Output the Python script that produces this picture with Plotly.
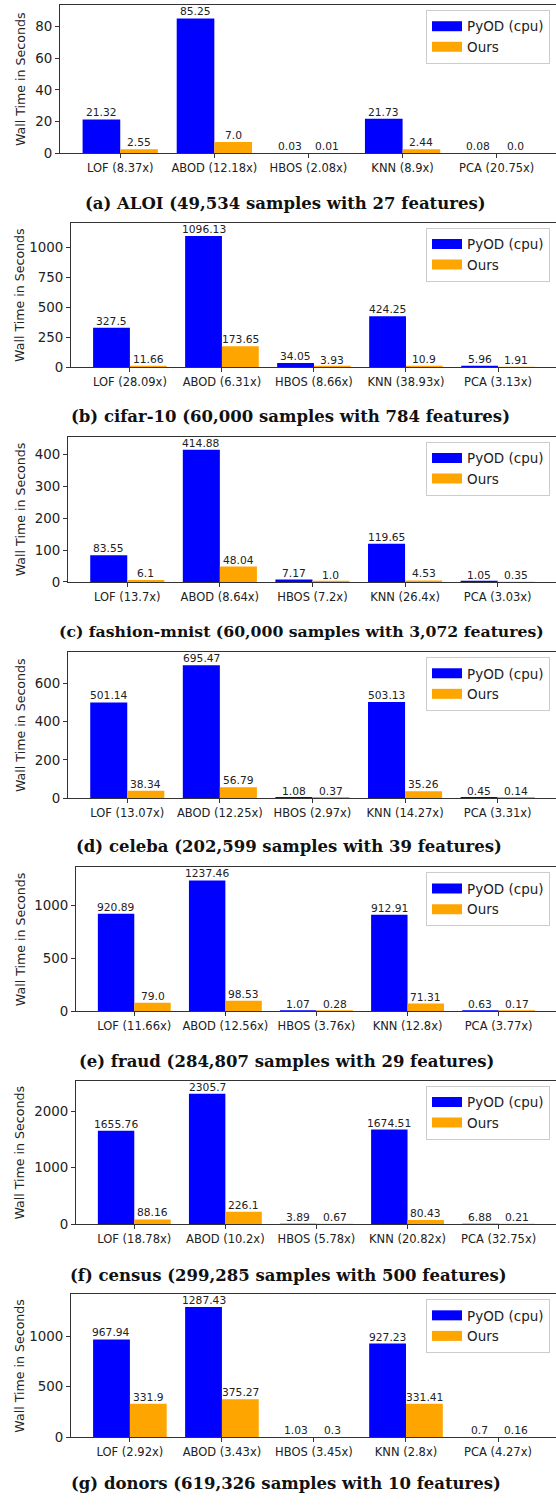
import plotly.graph_objects as go

# ---------------- data ----------------
methods = ["LOF", "ABOD", "HBOS", "KNN", "PCA"]
series_names = ["PyOD (cpu)", "Ours"]

captions = [
    "(a) ALOI (49,534 samples with 27 features)",
    "(b) cifar-10 (60,000 samples with 784 features)",
    "(c) fashion-mnist (60,000 samples with 3,072 features)",
    "(d) celeba (202,599 samples with 39 features)",
    "(e) fraud (284,807 samples with 29 features)",
    "(f) census (299,285 samples with 500 features)",
    "(g) donors (619,326 samples with 10 features)",
]

pyod_a = [21.32, 85.25, 0.03, 21.73, 0.08]
ours_a = [2.55, 7.0, 0.01, 2.44, 0.0]
speed_a = ["8.37x", "12.18x", "2.08x", "8.9x", "20.75x"]

pyod_b = [327.5, 1096.13, 34.05, 424.25, 5.96]
ours_b = [11.66, 173.65, 3.93, 10.9, 1.91]
speed_b = ["28.09x", "6.31x", "8.66x", "38.93x", "3.13x"]

pyod_c = [83.55, 414.88, 7.17, 119.65, 1.05]
ours_c = [6.1, 48.04, 1.0, 4.53, 0.35]
speed_c = ["13.7x", "8.64x", "7.2x", "26.4x", "3.03x"]

pyod_d = [501.14, 695.47, 1.08, 503.13, 0.45]
ours_d = [38.34, 56.79, 0.37, 35.26, 0.14]
speed_d = ["13.07x", "12.25x", "2.97x", "14.27x", "3.31x"]

pyod_e = [920.89, 1237.46, 1.07, 912.91, 0.63]
ours_e = [79.0, 98.53, 0.28, 71.31, 0.17]
speed_e = ["11.66x", "12.56x", "3.76x", "12.8x", "3.77x"]

pyod_f = [1655.76, 2305.7, 3.89, 1674.51, 6.88]
ours_f = [88.16, 226.1, 0.67, 80.43, 0.21]
speed_f = ["18.78x", "10.2x", "5.78x", "20.82x", "32.75x"]

pyod_g = [967.94, 1287.43, 1.03, 927.23, 0.7]
ours_g = [331.9, 375.27, 0.3, 331.41, 0.16]
speed_g = ["2.92x", "3.43x", "3.45x", "2.8x", "4.27x"]

ytick_steps = [20, 250, 100, 200, 500, 1000, 500]

panels = [
    (pyod_a, ours_a, speed_a),
    (pyod_b, ours_b, speed_b),
    (pyod_c, ours_c, speed_c),
    (pyod_d, ours_d, speed_d),
    (pyod_e, ours_e, speed_e),
    (pyod_f, ours_f, speed_f),
    (pyod_g, ours_g, speed_g),
]

# ---------------- layout geometry (pixels) ----------------
W, H = 556, 1506
tops = [5, 224, 439, 655.5, 872, 1086.5, 1301]
zeros = [154, 369, 585, 802.3, 1016.5, 1231, 1445]
lefts = [60, 71, 68, 68, 76, 76, 71]
caption_y = [205, 419, 635, 851, 1067, 1282, 1491]
caption_x = [285.5, 290, 301.5, 289, 286, 288, 285.5]
caption_size = [16.5, 16.5, 15.7, 16.5, 16.5, 16.5, 16.5]

colors = ["#0000ff", "#ffa500"]
bar_offsets = [-0.2, 0.2]   # grouped bars: width 0.4 each
TXT = "#222222"
AX = "#333333"
SANS = "DejaVu Sans"

fig = go.Figure()
layout = dict(
    width=W, height=H,
    margin=dict(l=0, r=0, t=0, b=0),
    paper_bgcolor="white", plot_bgcolor="white",
    barmode="group", bargap=0.2, bargroupgap=0,
    font=dict(family=SANS, color=TXT),
    annotations=[],
)

def py(p):
    return 1 - p / H

for i, (pyod, ours, speed) in enumerate(panels):
    n = i + 1
    sfx = "" if n == 1 else str(n)
    xa, ya = "x" + sfx, "y" + sfx
    leg = "legend" + sfx
    cats = [f"{m} ({s})" for m, s in zip(methods, speed)]
    for vals, name, col, off in zip((pyod, ours), series_names, colors, bar_offsets):
        fig.add_trace(go.Bar(
            x=cats, y=vals, name=name, marker=dict(color=col, line=dict(width=0)),
            xaxis=xa, yaxis=ya, showlegend=False,
        ))
        # legend proxy (wide flat patch like matplotlib)
        fig.add_trace(go.Scatter(
            x=[None], y=[None], mode="lines", name=name,
            line=dict(color=col, width=10),
            xaxis=xa, yaxis=ya, legend=leg, showlegend=True,
        ))
        # value labels just above each bar
        for k, v in enumerate(vals):
            layout["annotations"].append(dict(
                text=str(v), xref=xa, yref=ya, x=k + off, y=v,
                xanchor="center", yanchor="bottom", yshift=-2,
                showarrow=False, font=dict(family=SANS, size=10.7, color=TXT),
            ))
    ymax = max(pyod + ours) * 1.1
    layout["xaxis" + sfx] = dict(
        domain=[lefts[i] / W, 1], anchor=ya, range=[-0.64, 4.63],
        showline=True, linecolor=AX, linewidth=1, mirror=True,
        ticks="outside", ticklen=4, tickcolor=AX, tickwidth=1,
        tickfont=dict(family=SANS, size=11.5, color=TXT),
        showgrid=False, zeroline=False, fixedrange=True,
    )
    layout["yaxis" + sfx] = dict(
        domain=[py(zeros[i]), py(tops[i])], anchor=xa, range=[0, ymax],
        dtick=ytick_steps[i], tick0=0,
        showline=True, linecolor=AX, linewidth=1,
        ticks="outside", ticklen=4, tickcolor=AX, tickwidth=1,
        tickfont=dict(family=SANS, size=13.4, color=TXT),
        showgrid=False, zeroline=False, fixedrange=True,
    )
    layout[leg] = dict(
        x=550 / W, xanchor="right", y=py(tops[i] + 5), yanchor="top",
        bgcolor="rgba(255,255,255,0.8)", bordercolor="#cccccc", borderwidth=1,
        font=dict(family=SANS, size=13.5, color=TXT), itemwidth=30,
        entrywidth=82, entrywidthmode="pixels",
        tracegroupgap=0,
    )
    layout["annotations"].append(dict(
        text="Wall Time in Seconds", textangle=-90, showarrow=False,
        xref="paper", yref="paper", x=20 / W, y=py((tops[i] + zeros[i]) / 2),
        xanchor="center", yanchor="middle",
        font=dict(family=SANS, size=12.6, color=TXT),
    ))
    layout["annotations"].append(dict(
        text="<b>" + captions[i] + "</b>", showarrow=False,
        xref="paper", yref="paper", x=caption_x[i] / W, y=py(caption_y[i]),
        xanchor="center", yanchor="middle",
        font=dict(family="DejaVu Serif", size=caption_size[i], color="#111111"),
    ))

fig.update_layout(**layout)
fig.write_html(
    "out.html",
    config={"displayModeBar": False},
    post_script="document.body.style.margin='0';document.body.style.padding='0';",
)
